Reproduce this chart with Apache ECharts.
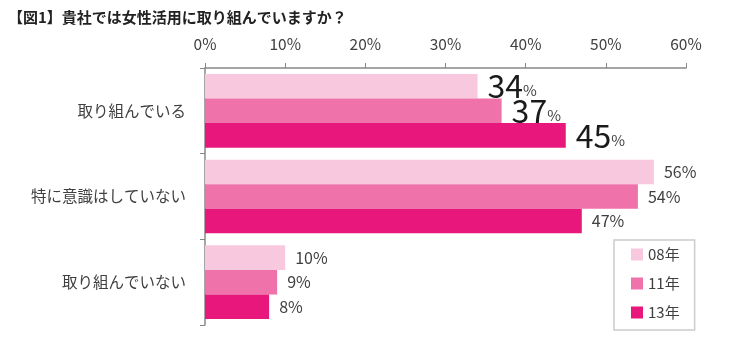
<!DOCTYPE html>
<html><head><meta charset="utf-8">
<script src="https://cdn.jsdelivr.net/npm/echarts@6/dist/echarts.min.js"></script>
<style>html,body{margin:0;padding:0;background:#fff}#c{width:732px;height:363px}</style>
</head><body><div id="c"></div>
<script>
const titleText = '【図1】貴社では女性活用に取り組んでいますか？';
const categories = ['取り組んでいる', '特に意識はしていない', '取り組んでいない'];
const seriesNames = ['08年', '11年', '13年'];
const v08 = [34, 56, 10];
const v11 = [37, 54, 9];
const v13 = [45, 47, 8];
const colors = ['#F8C8DE', '#EF72AA', '#E8177B'];
const FONT = '"Noto Sans CJK JP", "Noto Sans", sans-serif';

function mk(name, data, color) {
  return {
    name: name, type: 'bar', data: data, barGap: '0%', barCategoryGap: '14%',
    itemStyle: { color: color },
    label: {
      show: true, position: 'right', distance: 10, fontFamily: FONT,
      color: '#404040', fontSize: 16,
      formatter: function (p) {
        if (p.dataIndex === 0) return '{big|' + p.value + '}{pct|%}';
        return p.value + '%';
      },
      rich: {
        big: { fontSize: 32, color: '#1a1a1a', fontFamily: FONT },
        pct: { fontSize: 15, color: '#404040', fontFamily: FONT, padding: [9, 0, 0, 0] }
      }
    }
  };
}

const chart = echarts.init(document.getElementById('c'));
chart.setOption({
  animation: false,
  title: { text: titleText, left: 3, top: 5, textStyle: { fontFamily: FONT, fontSize: 15, fontWeight: 'bold', color: '#222' } },
  grid: { left: 205, right: 46, top: 68, bottom: 38 },
  legend: {
    orient: 'vertical', left: 614, top: 240, data: seriesNames,
    icon: 'rect', itemWidth: 12, itemHeight: 12, itemGap: 12,
    padding: [6, 15, 9, 17], borderColor: '#cccccc', borderWidth: 1.5,
    textStyle: { fontFamily: FONT, fontSize: 15, color: '#404040', lineHeight: 17 }
  },
  xAxis: {
    type: 'value', position: 'top', min: 0, max: 60, interval: 10,
    axisLine: { show: true, lineStyle: { color: '#888', width: 1.5 } },
    axisTick: { show: true, length: 5, lineStyle: { color: '#888' } },
    splitLine: { show: false },
    axisLabel: { formatter: '{value}%', margin: 16, fontFamily: FONT, fontSize: 15.5, color: '#404040' }
  },
  yAxis: {
    type: 'category', inverse: true, data: categories,
    axisLine: { show: true, lineStyle: { color: '#888', width: 1.5 } },
    axisTick: { show: true, length: 5, lineStyle: { color: '#888' } },
    axisLabel: { margin: 19, fontFamily: FONT, fontSize: 15.5, color: '#404040' }
  },
  series: [mk(seriesNames[0], v08, colors[0]), mk(seriesNames[1], v11, colors[1]), mk(seriesNames[2], v13, colors[2])]
});
</script></body></html>
